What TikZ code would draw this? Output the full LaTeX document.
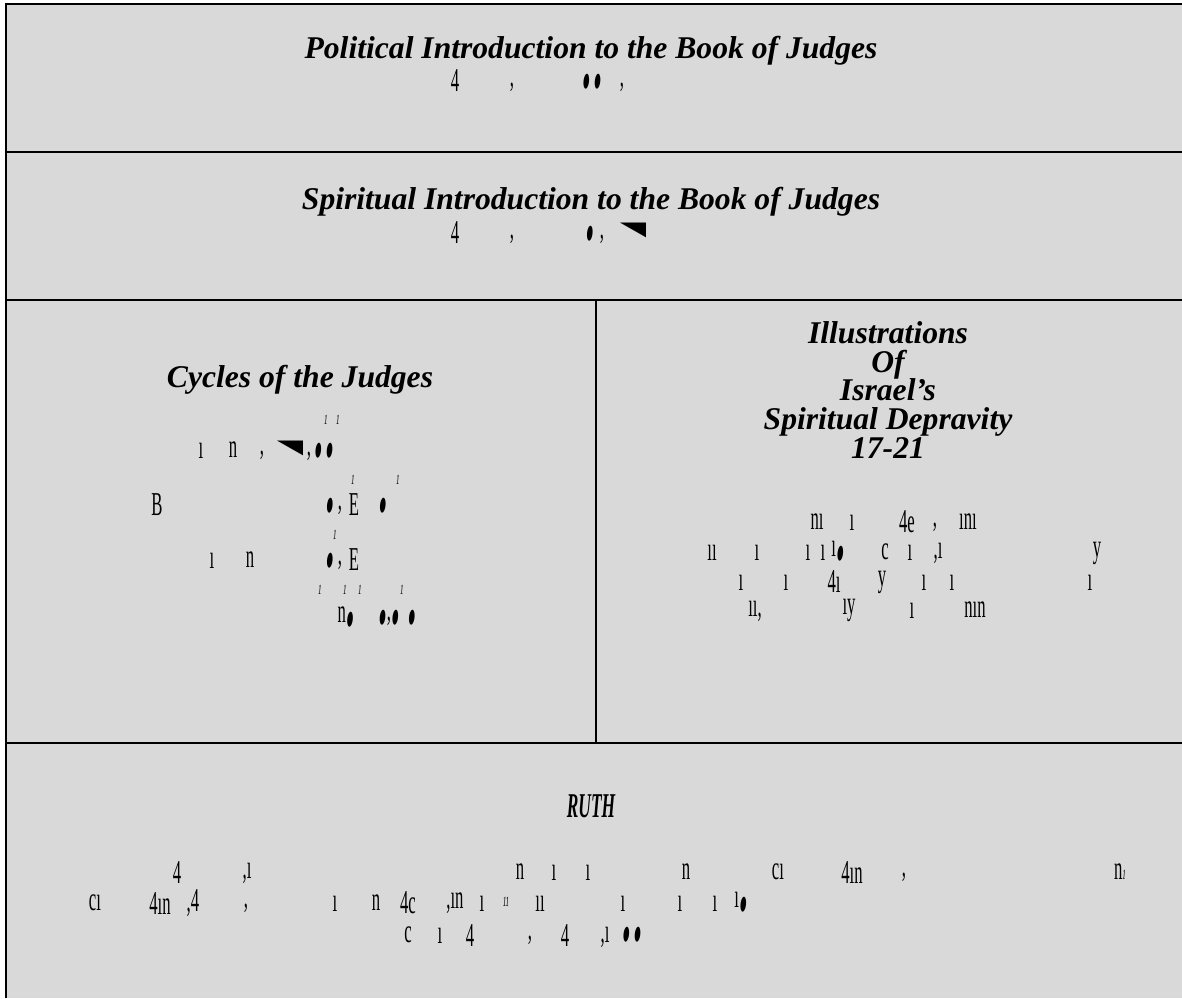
\documentclass[tikz,border=0pt]{standalone}
\usepackage{fontspec}
\usepackage{graphicx}
\setmainfont{Liberation Serif}
\newfontfamily\fragfont{Liberation Serif}
\newfontfamily\dvfont{DejaVu Sans}
\definecolor{bggray}{HTML}{D9D9D9}
\newcounter{gc}
\newcommand\gf[3]{\stepcounter{gc}\node[frag] (g\the\value{gc}) at (#1,#2) {\scalebox{0.5}[1]{#3}};}
\newcommand\lf{\rotatebox{-20}{\scalebox{0.8}[1.15]{\dvfont\fontsize{10}{10}\selectfont ●}}}
\newcommand\tri{\scalebox{3}[0.85]{\dvfont\fontsize{13}{13}\selectfont ◥}}
\newcommand\tk{{\fontsize{8}{8}\selectfont\itshape 1}}
\tikzset{
  frag/.style={inner sep=0pt, font=\fragfont\fontsize{19}{19}\selectfont},
  title/.style={inner sep=0pt, align=center, font=\bfseries\itshape\fontsize{18}{16.4}\selectfont},
  rule/.style={line width=1.4pt, black}
}
\begin{document}
\begin{tikzpicture}[x=0.02cm,y=-0.02cm]
\useasboundingbox (0,0) rectangle (1182,998);
\fill[white] (0,0) rectangle (1182,998);
\fill[bggray] (6,4) rectangle (1182,998);
\coordinate (tl) at (6,4);
\coordinate (tr) at (1182,4);
\coordinate (bl) at (6,998);
\coordinate (l1) at (6,152); \coordinate (r1) at (1182,152);
\coordinate (l2) at (6,300); \coordinate (r2) at (1182,300);
\coordinate (l3) at (6,743); \coordinate (r3) at (1182,743);
\coordinate (vt) at (596,300); \coordinate (vb) at (596,743);
\draw[rule] (bl) -- (tl) -- (tr);
\draw[rule] (l1) -- (r1);
\draw[rule] (l2) -- (r2);
\draw[rule] (l3) -- (r3);
\draw[rule] (vt) -- (vb);

\node[title] (t1) at (591,51) {Political Introduction to the Book of Judges};
\node[title] (t2) at (591,202) {Spiritual Introduction to the Book of Judges};
\node[title] (t3) at (300,380) {Cycles of the Judges};
\node[title] (t4) at (888,390) {Illustrations\\Of\\Israel’s\\Spiritual Depravity\\17-21};
\node[title] (t5) at (591,806) {\scalebox{0.55}[1.1]{RUTH}};

% fragments, political
\gf{455}{81}{4}\gf{512}{87}{,}\gf{592}{82}{\lf\,\lf}\gf{622}{87}{,}
% spiritual
\gf{455}{233}{4}\gf{512}{239}{,}\gf{590}{234}{\lf}\gf{602}{239}{,}\gf{633}{230}{\tri}
% cycles
\gf{326}{420}{\tk}\gf{338}{420}{\tk}
\gf{201}{451}{ı}\gf{233}{450}{n}\gf{262}{455}{,}\gf{290}{448}{\tri}\gf{309}{456}{,}\gf{324}{451}{\lf\,\lf}
\gf{353}{480}{\tk}\gf{398}{480}{\tk}
\gf{157}{505}{B}\gf{330}{506}{\lf}\gf{340}{510}{,}\gf{354}{505}{E}\gf{383}{506}{\lf}
\gf{335}{535}{\tk}
\gf{212}{561}{ı}\gf{250}{560}{n}\gf{330}{561}{\lf}\gf{340}{565}{,}\gf{354}{560}{E}
\gf{320}{590}{\tk}\gf{345}{590}{\tk}\gf{360}{590}{\tk}\gf{402}{590}{\tk}
\gf{346}{618}{n\lf}\gf{389}{618}{\lf,\lf}\gf{412}{618}{\lf}
% illustrations
\gf{817}{522}{nı}\gf{852}{523}{ı}\gf{907}{522}{4e}\gf{935}{527}{,}\gf{968}{522}{ını}
\gf{712}{553}{ıı}\gf{757}{553}{ı}\gf{808}{553}{ı}\gf{823}{553}{ı}\gf{838}{552}{ı\lf}\gf{885}{552}{c}\gf{910}{553}{ı}\gf{938}{553}{,ı}\gf{1097}{553}{y}
\gf{741}{583}{ı}\gf{786}{583}{ı}\gf{834}{582}{4ı}\gf{882}{582}{y}\gf{924}{583}{ı}\gf{952}{583}{ı}\gf{1090}{583}{ı}
\gf{755}{611}{ıı,}\gf{849}{610}{ıy}\gf{912}{611}{ı}\gf{975}{610}{nın}
% ruth text
\gf{177}{872}{4}\gf{247}{873}{,ı}\gf{520}{872}{n}\gf{554}{873}{ı}\gf{588}{873}{ı}\gf{686}{872}{n}\gf{778}{872}{cı}\gf{852}{872}{4ın}\gf{904}{877}{,}\gf{1120}{872}{n\tk}
\gf{95}{903}{cı}\gf{160}{903}{4ın}\gf{193}{903}{,4}\gf{246}{908}{,}\gf{335}{904}{ı}\gf{376}{903}{n}\gf{408}{903}{4c}\gf{455}{903}{,ın}\gf{482}{904}{ı}\gf{506}{902}{\tk\tk}\gf{540}{904}{ıı}\gf{623}{904}{ı}\gf{680}{904}{ı}\gf{715}{904}{ı}\gf{741}{903}{ı\lf}
\gf{408}{935}{c}\gf{440}{936}{ı}\gf{470}{935}{4}\gf{530}{940}{,}\gf{565}{935}{4}\gf{605}{937}{,ı}\gf{632}{935}{\lf\,\lf}
\end{tikzpicture}
\end{document}
